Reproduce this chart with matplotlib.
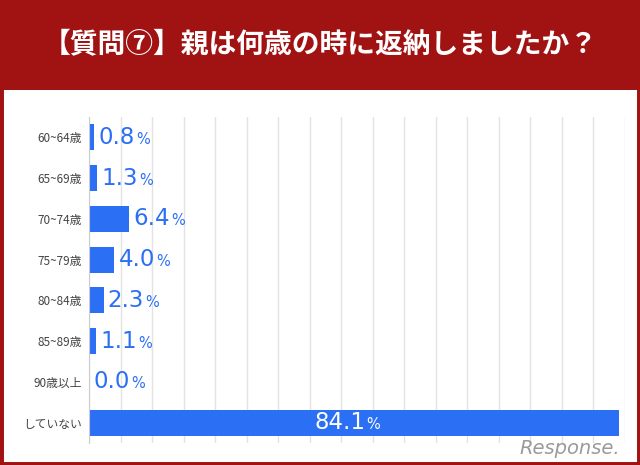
import matplotlib
matplotlib.use("Agg")
import matplotlib.pyplot as plt
from matplotlib.patches import Rectangle

plt.rcParams['font.family'] = ['Noto Sans CJK JP', 'DejaVu Sans']

categories = ["60~64歳", "65~69歳", "70~74歳", "75~79歳", "80~84歳", "85~89歳", "90歳以上", "していない"]
values = [0.8, 1.3, 6.4, 4.0, 2.3, 1.1, 0.0, 84.1]
title = "【質問⑦】親は何歳の時に返納しましたか？"

RED = "#A11212"
BLUE = "#2B6FF5"

fig = plt.figure(figsize=(6.4, 4.65), dpi=100)
fig.patch.set_facecolor("white")
fig.add_artist(Rectangle((0, 0), 1, 1, transform=fig.transFigure, facecolor="none",
                         edgecolor=RED, linewidth=5, zorder=0))
fig.add_artist(Rectangle((0, 1 - 90/465), 1, 90/465, transform=fig.transFigure,
                         facecolor=RED, edgecolor="none", zorder=1))
fig.text(0.5, 1 - 45/465, title, color="white", fontsize=20, fontweight="bold",
         ha="center", va="center")

ax = fig.add_axes([89/640, 1 - 443/465, 536/640, (443 - 117)/465])
y = list(range(len(categories)))
ax.barh(y, values, height=0.64, color=BLUE, zorder=2)
ax.set_xlim(0, 85)
ax.set_ylim(7.5, -0.5)
ax.set_yticks(y)
ax.set_yticklabels(categories, fontsize=8.5, color="#444444")
ax.set_xticks(range(0, 86, 5))
ax.set_xticklabels([])
ax.tick_params(axis="x", length=0)
ax.tick_params(axis="y", length=0, pad=5)
ax.grid(axis="x", color="#E3E3E3", linewidth=1, zorder=0)
for s in ["top", "right", "bottom"]:
    ax.spines[s].set_visible(False)
ax.spines["left"].set_color("#CCCCCC")

for yi, v in zip(y, values):
    inside = v > 50
    col = "white" if inside else BLUE
    x0 = v / 2 - 7 if inside else v
    t = ax.annotate(f"{v:.1f}", xy=(x0, yi), xytext=(3, 0), textcoords="offset points",
                    color=col, fontsize=16.5, ha="left", va="center", family="DejaVu Sans")
    ax.annotate("%", xy=(1, 0.5), xycoords=t, xytext=(1, -1.5), textcoords="offset points",
                color=col, fontsize=10.5, ha="left", va="center", family="DejaVu Sans")

fig.text(0.89, 0.035, "Response.", color="#9A9A9A", fontsize=14, style="italic",
         ha="center", va="center", family="DejaVu Sans")

fig.savefig("out.png", dpi=100)
